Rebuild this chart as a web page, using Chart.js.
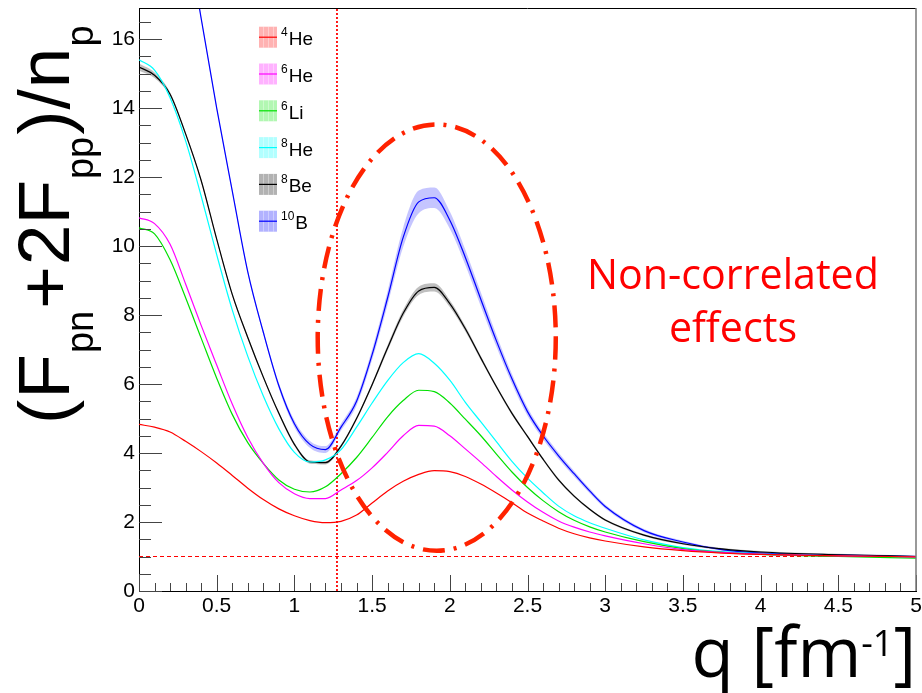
<!DOCTYPE html>
<html><head><meta charset="utf-8">
<script src="https://cdn.jsdelivr.net/npm/chart.js@4.4.1/dist/chart.umd.min.js"></script>
<style>html,body{margin:0;padding:0;background:#fff;}canvas{display:block;}</style>
</head><body>
<canvas id="c" width="922" height="693"></canvas>
<script>
// ---- data ----
const qValues = [0,0.1,0.2,0.3,0.4,0.5,0.6,0.7,0.8,0.9,1.0,1.1,1.2,1.3,1.4,1.5,1.6,1.7,1.8,1.9,2.0,2.1,2.2,2.3,2.4,2.5,2.6,2.7,2.8,2.9,3.0,3.25,3.5,3.75,4.0,4.5,5.0];
const he4 = [4.83,4.75,4.61,4.34,4.04,3.71,3.35,2.98,2.65,2.38,2.18,2.04,1.98,2.02,2.2,2.55,2.9,3.18,3.38,3.49,3.46,3.32,3.1,2.84,2.56,2.26,2.03,1.82,1.66,1.54,1.45,1.28,1.17,1.1,1.06,1.02,0.99];
const he6 = [10.82,10.65,10.05,8.9,7.7,6.55,5.42,4.45,3.7,3.14,2.82,2.68,2.68,2.93,3.2,3.57,4.02,4.5,4.8,4.78,4.5,4.12,3.73,3.32,2.93,2.58,2.28,2.03,1.85,1.71,1.6,1.37,1.2,1.12,1.07,1.02,0.99];
const li6 = [10.53,10.35,9.6,8.5,7.33,6.17,5.12,4.3,3.7,3.22,2.95,2.87,3.02,3.4,3.87,4.45,5.05,5.52,5.82,5.78,5.45,4.98,4.5,3.97,3.45,3.0,2.62,2.3,2.05,1.86,1.71,1.43,1.23,1.12,1.06,1.0,0.95];
const he8 = [15.4,15.1,14.3,13.05,11.45,9.75,8.15,6.8,5.65,4.7,4.02,3.74,3.8,4.1,4.75,5.45,6.1,6.62,6.88,6.6,6.11,5.47,4.9,4.33,3.76,3.27,2.85,2.46,2.18,1.98,1.82,1.48,1.26,1.14,1.08,1.02,0.98];
const be8 = [15.19,14.95,14.4,13.25,11.9,10.2,8.6,7.35,6.2,5.15,4.25,3.74,3.72,4.2,5.0,5.98,7.05,8.05,8.7,8.8,8.33,7.6,6.75,5.92,5.15,4.48,3.82,3.22,2.75,2.37,2.06,1.62,1.37,1.22,1.13,1.05,1.0];
const b10 = [25.5,24.5,22.0,19.3,16.6,14.0,11.6,9.25,7.5,5.95,4.85,4.25,4.1,4.75,5.5,6.85,8.5,10.25,11.28,11.4,10.75,9.67,8.45,7.25,6.15,5.2,4.5,3.92,3.4,2.9,2.45,1.75,1.42,1.2,1.1,1.04,1.0];
const b10Err = [0.05,0.05,0.05,0.05,0.05,0.05,0.05,0.05,0.06,0.08,0.1,0.1,0.1,0.1,0.12,0.15,0.2,0.28,0.33,0.3,0.25,0.22,0.2,0.17,0.14,0.12,0.1,0.09,0.08,0.07,0.06,0.05,0.04,0.03,0.03,0.03,0.03];
const be8Err = [0.1,0.08,0.06,0.05,0.05,0.05,0.05,0.05,0.05,0.05,0.05,0.05,0.05,0.05,0.05,0.06,0.08,0.1,0.12,0.12,0.1,0.08,0.06,0.05,0.05,0.04,0.04,0.04,0.03,0.03,0.03,0.03,0.03,0.03,0.03,0.03,0.03];
const legendSup = ['4','6','6','8','8','10'];
const legendSym = ['He','He','Li','He','Be','B'];
const xTickValues = [0,0.5,1,1.5,2,2.5,3,3.5,4,4.5,5];
const yTickValues = [0,2,4,6,8,10,12,14,16];
const qCut = 1.274;
const refLevel = 1;
const ellipseCenter = [1.916, 7.345];
const ellipseRadius = [0.766, 6.18];
const noteLines = ['Non-correlated','effects'];

// ---- styles ----
const seriesData = [he4, he6, li6, he8, be8, b10];
const colors = ['#ff0000','#ff00ff','#00e000','#00ffff','#000000','#0000ff'];
const boxColors = ['rgba(255,0,0,0.3)','rgba(255,0,255,0.3)','rgba(0,230,0,0.3)','rgba(0,255,255,0.3)','rgba(0,0,0,0.3)','rgba(0,0,255,0.3)'];
const XMAX = 5, YMAX = 16.9;

const pts = arr => qValues.map((q,i)=>({x:q,y:arr[i]}));
const band = (arr, err, sign) => qValues.map((q,i)=>({x:q,y:arr[i]+sign*err[i]}));

const datasets = [];
seriesData.forEach((arr,i)=>{
  datasets.push({label: legendSup[i]+legendSym[i], data: pts(arr), borderColor: colors[i], borderWidth: 1.2,
    pointRadius: 0, fill: false, cubicInterpolationMode: 'monotone', order: 1});
});
[[b10,b10Err,'rgba(90,90,255,0.35)'],[be8,be8Err,'rgba(0,0,0,0.25)']].forEach(([arr,err,c])=>{
  datasets.push({label:'bandU', data: band(arr,err,1), borderWidth:0, pointRadius:0, fill:'+1', backgroundColor:c, cubicInterpolationMode:'monotone', order: 5});
  datasets.push({label:'bandL', data: band(arr,err,-1), borderWidth:0, pointRadius:0, fill:false, cubicInterpolationMode:'monotone', order: 5});
});
datasets.push({label:'ref', data:[{x:0,y:refLevel},{x:XMAX,y:refLevel}], borderColor:'#ff0000', borderWidth:1, borderDash:[4,3], pointRadius:0, fill:false, order: 2});
datasets.push({label:'cut', data:[{x:qCut,y:0},{x:qCut,y:YMAX}], borderColor:'#ff0000', borderWidth:1.8, borderDash:[2,2], pointRadius:0, fill:false, order: 2});

const overlay = {
  id: 'overlay',
  afterDatasetsDraw(chart) {
    const {ctx, scales:{x,y}} = chart;
    const cx = x.getPixelForValue(ellipseCenter[0]), cy = y.getPixelForValue(ellipseCenter[1]);
    const rx = x.getPixelForValue(ellipseCenter[0]+ellipseRadius[0]) - cx;
    const ry = cy - y.getPixelForValue(ellipseCenter[1]+ellipseRadius[1]);
    ctx.save();
    ctx.strokeStyle = '#ff2200'; ctx.lineWidth = 4.5; ctx.setLineDash([22,9,3,9]);
    ctx.beginPath(); ctx.ellipse(cx, cy, rx, ry, 0, 0, Math.PI*2); ctx.stroke();
    ctx.restore();
  },
  afterDraw(chart) {
    const {ctx, chartArea:a, scales:{x,y}} = chart;
    ctx.save();
    // ticks (inside, ROOT style)
    ctx.strokeStyle = '#444'; ctx.lineWidth = 1; ctx.setLineDash([]);
    for (let k=0; k<=Math.floor(YMAX*2); k++) {
      const v = k/2, py = Math.round(y.getPixelForValue(v))+0.5;
      const len = (k%4===0) ? 23 : 12;
      ctx.beginPath(); ctx.moveTo(a.left, py); ctx.lineTo(a.left+len, py); ctx.stroke();
    }
    for (let k=0; k<=50; k++) {
      const px = Math.round(x.getPixelForValue(k/10))+0.5;
      const len = (k%5===0) ? 16 : 8;
      ctx.beginPath(); ctx.moveTo(px, a.bottom); ctx.lineTo(px, a.bottom-len); ctx.stroke();
    }
    // frame top/right
    ctx.strokeStyle = '#000';
    ctx.beginPath(); ctx.moveTo(a.left, a.top+0.5); ctx.lineTo(a.right, a.top+0.5); ctx.stroke();
    ctx.strokeStyle = '#777'; ctx.lineWidth = 1.5;
    ctx.beginPath(); ctx.moveTo(a.right, a.top); ctx.lineTo(a.right, a.bottom); ctx.stroke();
    // legend
    for (let i=0;i<legendSym.length;i++) {
      const cyl = 37.2 + i*36.8;
      ctx.fillStyle = boxColors[i];
      ctx.fillRect(259, cyl-10.5, 18, 21);
      ctx.strokeStyle = 'rgba(255,255,255,0.35)'; ctx.lineWidth = 1;
      [263,268,273].forEach(sx=>{ctx.beginPath();ctx.moveTo(sx+0.5,cyl-10.5);ctx.lineTo(sx+0.5,cyl+10.5);ctx.stroke();});
      ctx.strokeStyle = colors[i]; ctx.lineWidth = 1.2;
      ctx.beginPath(); ctx.moveTo(259, cyl); ctx.lineTo(277, cyl); ctx.stroke();
      ctx.fillStyle = '#000'; ctx.textBaseline = 'alphabetic'; ctx.textAlign = 'left';
      ctx.font = '12px "Liberation Sans", Arial, sans-serif';
      ctx.fillText(legendSup[i], 281, cyl-1);
      const sw = ctx.measureText(legendSup[i]).width;
      ctx.font = '19px "Liberation Sans", Arial, sans-serif';
      ctx.fillText(legendSym[i], 281+sw+1, cyl+8);
    }
    // note text
    ctx.fillStyle = '#ff0000'; ctx.textAlign = 'center';
    ctx.font = '40px "Open Sans", sans-serif';
    const w0 = ctx.measureText(noteLines[0]).width;
    const fs = 40*292/w0;
    ctx.font = fs.toFixed(1)+'px "Open Sans", sans-serif';
    ctx.fillText(noteLines[0], 733, 289);
    ctx.fillText(noteLines[1], 733, 342);
    // y title
    ctx.save();
    ctx.translate(69, 424); ctx.rotate(-Math.PI/2);
    ctx.fillStyle = '#000'; ctx.textAlign = 'left';
    const big = '73px "Liberation Sans", Arial, sans-serif', small = '38px "Liberation Sans", Arial, sans-serif';
    const segs = [['(',0],['F',0],['pn',1],['+',0],['2F',0],['pp',1],[')',0],['/',0],['n',0],['p',1]];
    let tx = 0;
    segs.forEach(([t,sub])=>{
      ctx.font = sub ? small : big;
      ctx.fillText(t, tx, sub ? 24 : 0);
      tx += ctx.measureText(t).width + (sub?2:1);
    });
    ctx.restore();
    // x title
    ctx.fillStyle = '#000'; ctx.textAlign = 'left';
    const xf = '69px "Open Sans", sans-serif', xs = '36px "Open Sans", sans-serif';
    ctx.font = xf; const w1 = ctx.measureText('q [fm').width, w3 = ctx.measureText(']').width;
    ctx.font = xs; const w2 = ctx.measureText('-1').width;
    let sx = 916 - (w1+w2+w3);
    ctx.font = xf; ctx.fillText('q [fm', sx, 677);
    ctx.font = xs; ctx.fillText('-1', sx+w1, 656);
    ctx.font = xf; ctx.fillText(']', sx+w1+w2, 677);
    ctx.restore();
  }
};

const zeroPad = s => { s.paddingTop = 0; s.paddingBottom = 0; s.paddingLeft = 0; s.paddingRight = 0; };
new Chart(document.getElementById('c'), {
  type: 'line',
  data: { datasets },
  options: {
    responsive: false, animation: false, devicePixelRatio: 1,
    layout: { padding: { top: 8, right: 6, left: 0, bottom: 0 } },
    plugins: { legend: { display: false }, tooltip: { enabled: false } },
    scales: {
      x: { type: 'linear', min: 0, max: XMAX,
        afterBuildTicks: s => { s.ticks = xTickValues.map(v=>({value:v})); },
        afterFit: s => { s.height = 102; zeroPad(s); },
        grid: { display: false, drawTicks: false },
        border: { display: true, color: '#000', width: 1 },
        ticks: { autoSkip: false, maxRotation: 0, padding: 3, color: '#000',
          font: { size: 21, family: '"Liberation Sans", Arial, sans-serif' }, callback: v => String(v) } },
      y: { type: 'linear', min: 0, max: YMAX,
        afterBuildTicks: s => { s.ticks = yTickValues.map(v=>({value:v})); },
        afterFit: s => { s.width = 139; zeroPad(s); },
        grid: { display: false, drawTicks: false },
        border: { display: true, color: '#000', width: 1 },
        ticks: { autoSkip: false, padding: 4, color: '#000',
          font: { size: 21, family: '"Liberation Sans", Arial, sans-serif' }, callback: v => String(v) } }
    }
  },
  plugins: [overlay]
});
</script>
</body></html>
